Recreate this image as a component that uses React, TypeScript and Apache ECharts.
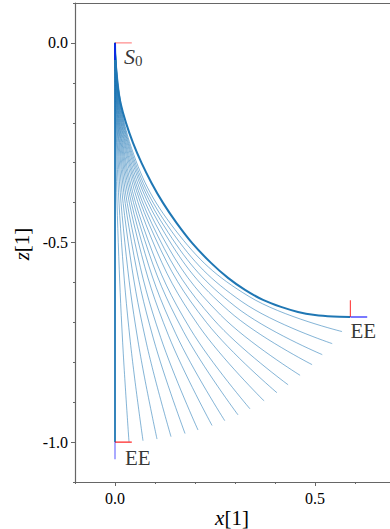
import React, { useEffect, useRef } from "react";
import * as echarts from "echarts";

// Axis ranges and ticks
const X_MIN = -0.1;
const X_MAX = 0.6875;
const Z_MIN = -1.1;
const Z_MAX = 0.1;
const xMajorTicks = [0, 0.5];
const zMajorTicks = [0, -0.5, -1.0];

// Rod shapes (x, z), from straight to most bent
const curve00 = [[0, 0], [0, -0.25], [0, -0.5], [0, -0.75], [0, -1]];
const curve01 = [[0, 0], [0.0019, -0.25], [0.0082, -0.4999], [0.0191, -0.7497], [0.035, -0.9992]];
const curve02 = [[0, 0], [0.0038, -0.25], [0.0163, -0.4996], [0.0383, -0.7487], [0.07, -0.9966]];
const curve03 = [[0, 0], [0.0057, -0.2499], [0.0245, -0.4992], [0.0575, -0.747], [0.105, -0.9924]];
const curve04 = [[0, 0], [0.0076, -0.2499], [0.0328, -0.4985], [0.0768, -0.7446], [0.14, -0.9864]];
const curve05 = [[0, 0], [0.0096, -0.2498], [0.0411, -0.4977], [0.0962, -0.7415], [0.1751, -0.9786]];
const curve06 = [[0, 0], [0.0114, -0.2497], [0.049, -0.4967], [0.1142, -0.738], [0.2075, -0.9698]];
const curve07 = [[0, 0], [0.0134, -0.2495], [0.0575, -0.4955], [0.1339, -0.7334], [0.2426, -0.9584]];
const curve08 = [[0, 0], [0.0153, -0.2494], [0.0654, -0.4942], [0.1519, -0.7285], [0.2743, -0.9463]];
const curve09 = [[0, 0], [0.0172, -0.2492], [0.0737, -0.4925], [0.1709, -0.7226], [0.3075, -0.9318]];
const curve10 = [[0, 0], [0.0191, -0.2491], [0.0814, -0.4909], [0.1883, -0.7166], [0.3375, -0.9168]];
const curve11 = [[0, 0], [0.0213, -0.2488], [0.0907, -0.4886], [0.2091, -0.7084], [0.3727, -0.8969]];
const curve12 = [[0, 0], [0.0234, -0.2486], [0.0995, -0.4863], [0.2284, -0.7], [0.4049, -0.8764]];
const curve13 = [[0, 0], [0.0253, -0.2483], [0.1073, -0.484], [0.2455, -0.6918], [0.4328, -0.8565]];
const curve14 = [[0, 0], [0.0274, -0.2481], [0.116, -0.4812], [0.2641, -0.6818], [0.4627, -0.8327]];
const curve15 = [[0, 0], [0.0296, -0.2477], [0.1251, -0.4781], [0.2834, -0.6706], [0.4927, -0.806]];
const curve16 = [[0, 0], [0.0316, -0.2474], [0.1331, -0.4751], [0.3002, -0.6599], [0.5181, -0.7809]];
const curve17 = [[0, 0], [0.0336, -0.2471], [0.1414, -0.4717], [0.3172, -0.6482], [0.543, -0.7533]];
const curve18 = [[0, 0], [0.0358, -0.2467], [0.1501, -0.4679], [0.3347, -0.635], [0.5676, -0.7231]];
const finalCurve = [
  [0, 0], [0.0013, -0.0501], [0.005, -0.1002], [0.0138, -0.1503], [0.0275, -0.2004],
  [0.045, -0.2505], [0.0663, -0.3006], [0.0913, -0.3507], [0.12, -0.4008],
  [0.1538, -0.4509], [0.1925, -0.501], [0.24, -0.5511], [0.2825, -0.5887],
  [0.325, -0.6188], [0.37, -0.6438], [0.415, -0.6614], [0.4575, -0.6739],
  [0.5, -0.6814], [0.545, -0.6852], [0.5875, -0.6864],
];
const thinCurves = [
  curve01, curve02, curve03, curve04, curve05, curve06, curve07, curve08, curve09,
  curve10, curve11, curve12, curve13, curve14, curve15, curve16, curve17, curve18,
];

// Coordinate frames: [red axis, blue axis]
const baseRed = [[0, 0], [0.042, 0]];
const baseBlue = [[0, 0], [0, -0.043]];
const tipStraightRed = [[0, -1], [0.042, -1]];
const tipStraightBlue = [[0, -1], [0, -1.043]];
const tipBentRed = [[0.5885, -0.6864], [0.5885, -0.6444]];
const tipBentBlue = [[0.5885, -0.6864], [0.6305, -0.6864]];

// Labels
const labelPoints = [
  { name: "S0", value: [0, 0], offset: [9, 1] },
  { name: "EE", value: [0, -1], offset: [10, 5] },
  { name: "EE", value: [0.5885, -0.6864], offset: [0, 4] },
];

const SERIF = "'Liberation Serif', 'DejaVu Serif', serif";
const AXIS_COLOR = "#666";

export default function App() {
  const ref = useRef<HTMLDivElement>(null);

  useEffect(() => {
    if (!ref.current) return;
    const chart = echarts.init(ref.current, null, { renderer: "svg" });

    const lineSeries = (data: number[][], color: string, width: number, opacity: number, smooth: number | boolean = 0.4) => ({
      type: "line",
      data,
      xAxisIndex: 0,
      yAxisIndex: 0,
      showSymbol: false,
      symbol: "none",
      smooth,
      silent: true,
      lineStyle: { color, width, opacity },
      z: 2,
    });

    const series: any[] = [];
    series.push(lineSeries(curve00, "#1f77b4", 2, 0.9, false));
    thinCurves.forEach((c) => series.push(lineSeries(c, "#1f77b4", 1, 0.55)));
    series.push(lineSeries(finalCurve, "#1f77b4", 2, 1, 0.25));
    series.push(lineSeries(baseRed, "#ff0000", 1.2, 0.45, false));
    series.push(lineSeries(baseBlue, "#0000ff", 1.5, 0.85, false));
    series.push(lineSeries(tipStraightRed, "#ff0000", 1.2, 0.85, false));
    series.push(lineSeries(tipStraightBlue, "#0000ff", 1.5, 0.45, false));
    series.push(lineSeries(tipBentRed, "#ff0000", 1.2, 0.7, false));
    series.push(lineSeries(tipBentBlue, "#0000ff", 1.5, 0.7, false));

    series.push({
      type: "scatter",
      xAxisIndex: 0,
      yAxisIndex: 0,
      symbolSize: 0,
      silent: true,
      z: 5,
      data: labelPoints.map((p) => ({
        name: p.name,
        value: p.value,
        label: {
          show: true,
          position: p.offset,
          align: "left",
          verticalAlign: "top",
          formatter: p.name === "S0" ? "{it|S}{sub|0}" : "{rm|EE}",
          rich: {
            it: { fontFamily: SERIF, fontStyle: "italic", fontSize: 22, color: "#000" },
            sub: { fontFamily: SERIF, fontSize: 15, color: "#000", padding: [10, 0, 0, 0] },
            rm: { fontFamily: SERIF, fontSize: 21, color: "#000" },
          },
        },
      })),
    });

    const common = {
      type: "value",
      min: X_MIN,
      max: X_MAX,
      splitLine: { show: false },
    };
    const commonZ = {
      type: "value",
      min: Z_MIN,
      max: Z_MAX,
      splitLine: { show: false },
    };
    const labelStyle = {
      fontFamily: SERIF,
      fontSize: 16,
      color: "#000",
      formatter: (v: number) => v.toFixed(1),
    };

    chart.setOption({
      animation: false,
      backgroundColor: "#fff",
      grid: { left: 75, top: 3, right: 0, bottom: 47, containLabel: false },
      xAxis: [
        {
          ...common,
          position: "bottom",
          axisLine: { show: true, onZero: false, lineStyle: { color: AXIS_COLOR, width: 1.2 } },
          axisTick: { show: true, customValues: xMajorTicks, length: 4, lineStyle: { color: AXIS_COLOR, width: 1 } },
          axisLabel: { ...labelStyle, customValues: xMajorTicks, margin: 8 },
        },
        {
          ...common,
          interval: 0.1,
          position: "bottom",
          axisLine: { show: false, onZero: false },
          axisTick: { show: true, length: 2, lineStyle: { color: AXIS_COLOR, width: 1 } },
          axisLabel: { show: false },
        },
        {
          ...common,
          position: "top",
          axisLine: { show: true, onZero: false, lineStyle: { color: AXIS_COLOR, width: 1.2 } },
          axisTick: { show: false },
          axisLabel: { show: false },
        },
      ],
      yAxis: [
        {
          ...commonZ,
          position: "left",
          axisLine: { show: true, onZero: false, lineStyle: { color: AXIS_COLOR, width: 1.2 } },
          axisTick: { show: true, customValues: zMajorTicks, length: 4, lineStyle: { color: AXIS_COLOR, width: 1 } },
          axisLabel: { ...labelStyle, customValues: zMajorTicks, margin: 7 },
        },
        {
          ...commonZ,
          interval: 0.1,
          position: "left",
          axisLine: { show: false, onZero: false },
          axisTick: { show: true, length: 2, lineStyle: { color: AXIS_COLOR, width: 1 } },
          axisLabel: { show: false },
        },
      ],
      graphic: [
        {
          type: "text",
          x: 232,
          y: 518,
          style: {
            text: "{i|x}{n|[1]}",
            align: "center",
            verticalAlign: "middle",
            rich: {
              i: { fontFamily: SERIF, fontStyle: "italic", fontSize: 21, fill: "#000" },
              n: { fontFamily: SERIF, fontSize: 21, fill: "#000" },
            },
          },
        },
        {
          type: "text",
          x: 22,
          y: 244,
          rotation: Math.PI / 2,
          style: {
            text: "{i|z}{n|[1]}",
            align: "center",
            verticalAlign: "middle",
            rich: {
              i: { fontFamily: SERIF, fontStyle: "italic", fontSize: 21, fill: "#000" },
              n: { fontFamily: SERIF, fontSize: 21, fill: "#000" },
            },
          },
        },
      ],
      series,
    });

    return () => chart.dispose();
  }, []);

  return (
    <div
      ref={ref}
      style={{ position: "fixed", left: 0, top: 0, width: 390, height: 529, background: "#fff" }}
    />
  );
}
